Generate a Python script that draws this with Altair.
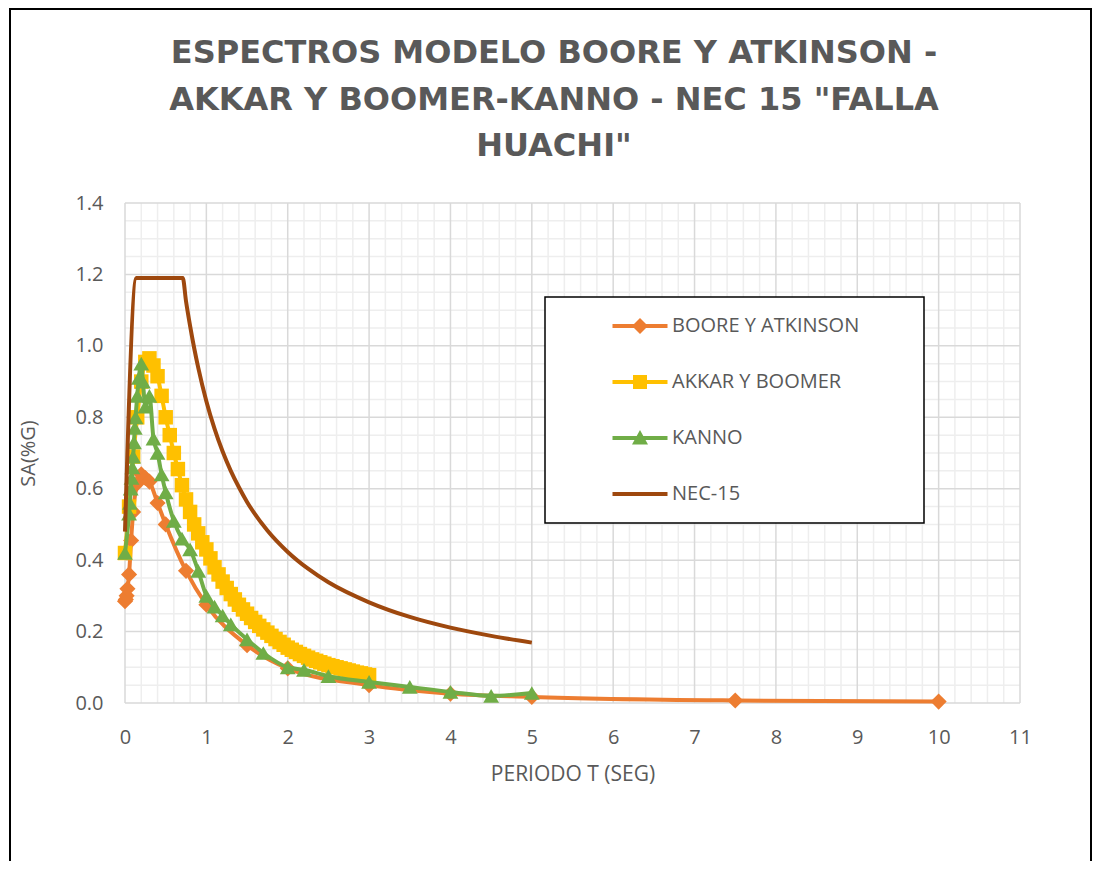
import altair as alt
import pandas as pd

# ---------------- data ----------------
names = ["BOORE Y ATKINSON", "AKKAR Y BOOMER", "KANNO", "NEC-15"]
colors = ["#ED7D31", "#FFC000", "#70AD47", "#9E480E"]

t_ba = [0, 0.01, 0.02, 0.03, 0.05, 0.075, 0.1, 0.15, 0.2, 0.25, 0.3, 0.4, 0.5,
        0.75, 1.0, 1.5, 2.0, 3.0, 4.0, 5.0, 7.5, 10.0]
sa_ba = [0.285, 0.29, 0.30, 0.32, 0.36, 0.455, 0.535, 0.615, 0.64, 0.63, 0.62,
         0.56, 0.50, 0.37, 0.275, 0.162, 0.097, 0.05, 0.026, 0.017, 0.007, 0.004]

t_ab = [0, 0.05, 0.1, 0.15, 0.2, 0.25, 0.3, 0.35, 0.4, 0.45, 0.5, 0.55, 0.6,
        0.65, 0.7, 0.75, 0.8, 0.85, 0.9, 0.95, 1.0, 1.05, 1.1, 1.15, 1.2, 1.25,
        1.3, 1.35, 1.4, 1.45, 1.5, 1.55, 1.6, 1.65, 1.7, 1.75, 1.8, 1.85, 1.9,
        1.95, 2.0, 2.05, 2.1, 2.15, 2.2, 2.25, 2.3, 2.35, 2.4, 2.45, 2.5, 2.55,
        2.6, 2.65, 2.7, 2.75, 2.8, 2.85, 2.9, 2.95, 3.0]
sa_ab = [0.42, 0.55, 0.69, 0.80, 0.90, 0.955, 0.965, 0.945, 0.915, 0.86, 0.80,
         0.75, 0.70, 0.655, 0.61, 0.57, 0.535, 0.50, 0.475, 0.45, 0.43, 0.405,
         0.38, 0.36, 0.34, 0.322, 0.305, 0.29, 0.275, 0.262, 0.25, 0.238, 0.227,
         0.216, 0.206, 0.197, 0.188, 0.179, 0.171, 0.163, 0.155, 0.149, 0.143,
         0.137, 0.132, 0.127, 0.122, 0.118, 0.114, 0.11, 0.106, 0.103, 0.10,
         0.097, 0.094, 0.091, 0.088, 0.085, 0.083, 0.08, 0.078]

t_k = [0, 0.05, 0.06, 0.07, 0.08, 0.09, 0.1, 0.11, 0.12, 0.13, 0.15, 0.17, 0.2,
       0.22, 0.25, 0.3, 0.35, 0.4, 0.45, 0.5, 0.6, 0.7, 0.8, 0.9, 1.0, 1.1, 1.2,
       1.3, 1.5, 1.7, 2.0, 2.2, 2.5, 3.0, 3.5, 4.0, 4.5, 5.0]
sa_k = [0.42, 0.53, 0.56, 0.60, 0.63, 0.66, 0.69, 0.73, 0.77, 0.80, 0.86, 0.91,
        0.95, 0.90, 0.83, 0.86, 0.74, 0.70, 0.64, 0.59, 0.51, 0.46, 0.43, 0.37,
        0.30, 0.27, 0.245, 0.22, 0.178, 0.14, 0.10, 0.093, 0.075, 0.059, 0.045,
        0.031, 0.02, 0.028]

t_nec = [0, 0.14, 0.71, 0.75, 0.8, 0.85, 0.9, 1.0, 1.1, 1.2, 1.3, 1.4, 1.5,
         1.75, 2.0, 2.25, 2.5, 3.0, 3.5, 4.0, 4.5, 5.0]
sa_nec = [0.48, 1.19, 1.19, 1.125, 1.056, 0.994, 0.939, 0.845, 0.768, 0.704,
          0.65, 0.604, 0.563, 0.483, 0.423, 0.376, 0.338, 0.282, 0.241, 0.211,
          0.188, 0.169]

x_ticks = list(range(0, 12))
y_ticks = [0.0, 0.2, 0.4, 0.6, 0.8, 1.0, 1.2, 1.4]
x_minor = [round(i * 0.2, 1) for i in range(1, 55) if i % 5 != 0]
y_minor = [round(i * 0.05, 2) for i in range(1, 28) if i % 4 != 0]

title_lines = ["ESPECTROS MODELO BOORE Y ATKINSON -",
               'AKKAR Y BOOMER-KANNO - NEC 15 "FALLA',
               'HUACHI"']

# ---------------- styling ----------------
FONT = "Open Sans"
TXT = "#595959"
W, H = 895, 500

xs = alt.Scale(domain=[0, 11], nice=False, zero=False)
ys = alt.Scale(domain=[0, 1.4], nice=False, zero=True)

x_axis = alt.Axis(values=x_ticks, grid=False, domain=False, ticks=False,
                  labelFlush=False, labelFont=FONT, labelFontSize=20,
                  labelColor=TXT, labelPadding=24, title="PERIODO T (SEG)",
                  titleFont=FONT, titleFontSize=21, titleFontWeight="normal",
                  titleColor=TXT, titlePadding=16)
y_axis = alt.Axis(values=y_ticks, format=".1f", grid=False, domain=False,
                  ticks=False, labelFlush=False, labelFont=FONT,
                  labelFontSize=20, labelColor=TXT, labelPadding=22,
                  title="SA(%G)", titleFont=FONT, titleFontSize=20,
                  titleFontWeight="normal", titleColor=TXT, titlePadding=36)

# grid layers
gx_minor = alt.Chart(pd.DataFrame({"v": x_minor})).mark_rule(
    color="#eeeeee", strokeWidth=1.5).encode(x=alt.X("v:Q", scale=xs, axis=x_axis))
gy_minor = alt.Chart(pd.DataFrame({"v": y_minor})).mark_rule(
    color="#eeeeee", strokeWidth=1.5).encode(y=alt.Y("v:Q", scale=ys, axis=y_axis))
gx_major = alt.Chart(pd.DataFrame({"v": x_ticks})).mark_rule(
    color="#d9d9d9", strokeWidth=1.5).encode(x=alt.X("v:Q", scale=xs, axis=x_axis))
gy_major = alt.Chart(pd.DataFrame({"v": y_ticks})).mark_rule(
    color="#d9d9d9", strokeWidth=1.5).encode(y=alt.Y("v:Q", scale=ys, axis=y_axis))


def series(ts, vals, color, shape, size):
    df = pd.DataFrame({"T": ts, "SA": vals})
    enc = dict(x=alt.X("T:Q", scale=xs, axis=x_axis),
               y=alt.Y("SA:Q", scale=ys, axis=y_axis))
    line = alt.Chart(df).mark_line(color=color, strokeWidth=4,
                                   interpolate="monotone").encode(**enc)
    if shape is None:
        return [line]
    pts = alt.Chart(df).mark_point(shape=shape, filled=True, color=color,
                                   size=size, opacity=1).encode(**enc)
    return [line, pts]


layers = [gx_minor, gy_minor, gx_major, gy_major]
layers += series(t_ba, sa_ba, colors[0], "diamond", 260)
layers += series(t_ab, sa_ab, colors[1], "square", 210)
layers += series(t_k, sa_k, colors[2], "triangle-up", 250)
layers += series(t_nec, sa_nec, colors[3], None, 0)

one = pd.DataFrame({"a": [0]})

# legend box (drawn behind the legend entries)
legend_box = alt.Chart(one).mark_rect(
    fill="white", stroke="black", strokeWidth=1.5).encode(
    x=alt.value(420), x2=alt.value(799), y=alt.value(94), y2=alt.value(320))
layers.append(legend_box)

# legend (custom symbols: line segment + marker)
seg = "M-1.1,-0.08H1.1V0.08H-1.1Z"
paths = [
    seg + " M0,-0.32L0.32,0L0,0.32L-0.32,0Z",
    seg + " M-0.28,-0.28H0.28V0.28H-0.28Z",
    seg + " M0,-0.32L0.32,0.26H-0.32Z",
    seg,
]
leg = alt.Legend(orient="none", legendX=420, legendY=94, title=None,
                 padding=4, rowPadding=21, symbolSize=2500,
                 symbolStrokeWidth=0, symbolOpacity=1, symbolOffset=66,
                 labelOffset=7, labelFont=FONT, labelFontSize=20,
                 labelColor=TXT, labelLimit=600)
legend_layer = alt.Chart(pd.DataFrame({"serie": names})).mark_point(
    filled=True, opacity=0).encode(
    color=alt.Color("serie:N", scale=alt.Scale(domain=names, range=colors),
                    legend=leg, sort=names),
    shape=alt.Shape("serie:N", scale=alt.Scale(domain=names, range=paths),
                    legend=leg, sort=names),
)
layers.append(legend_layer)

# chart title (three lines, centred on the chart frame)
title_layer = alt.Chart(one).mark_text(
    font="DejaVu Sans", fontSize=32, fontWeight="bold", color=TXT,
    lineHeight=46.5, align="center", baseline="alphabetic").encode(
    x=alt.value(429), y=alt.value(-140), text=alt.value(title_lines))
layers.append(title_layer)

# outer chart frame
frame = alt.Chart(one).mark_rect(
    fill=None, stroke="black", strokeWidth=2).encode(
    x=alt.value(-115), x2=alt.value(966), y=alt.value(-194), y2=alt.value(700))
layers.append(frame)

chart = alt.layer(*layers).properties(
    width=W, height=H,
    autosize=alt.AutoSizeParams(type="none"),
    padding={"left": 117, "top": 195, "right": 73, "bottom": 158},
).configure_view(stroke=None)

chart.save("out.html", embed_options={"renderer": "svg", "actions": False})
